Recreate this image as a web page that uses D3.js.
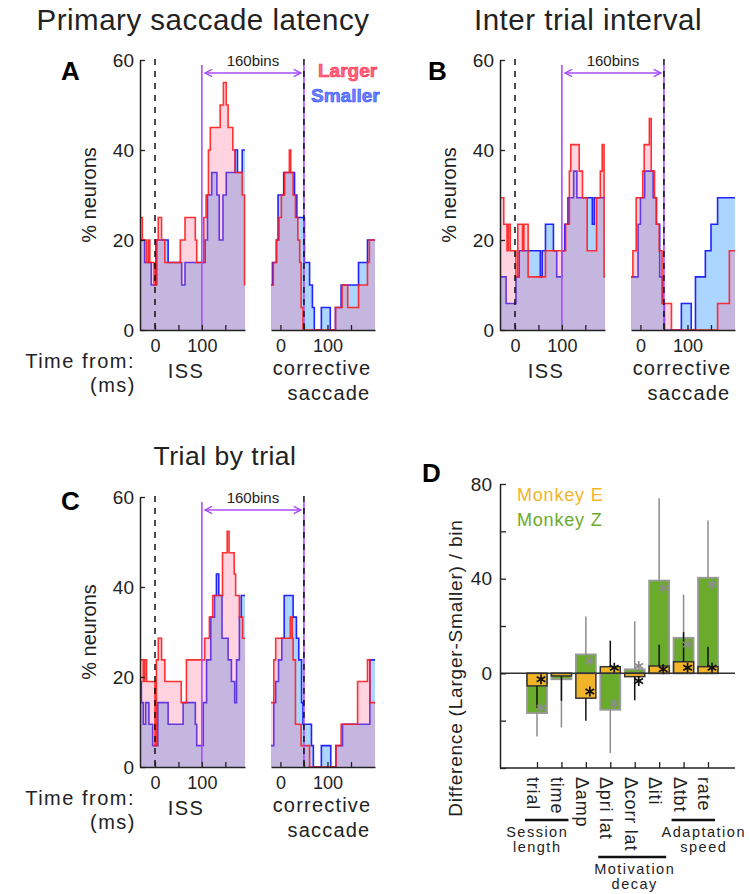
<!DOCTYPE html>
<html>
<head>
<meta charset="utf-8">
<script src="https://cdnjs.cloudflare.com/ajax/libs/d3/7.8.5/d3.min.js"></script>
<style>
  body { margin: 0; background: #fff; }
  svg { display: block; }
  text { font-family: "Liberation Sans", Arial, Helvetica, sans-serif; }
</style>
</head>
<body>
<script>
// step histograms, [time from event (ms), % neurons] - each value holds until the next time
var aIssLarger = [[-32,25],[-27,20],[-18,15],[-14,20],[-11,15],[-2,10],[4,20],[7,25],[14,20],[21,15],[54,20],[64,25],[86,20],[89,15],[104,25],[109,30],[114,40],[118,45],[139,50],[146,55],[152,50],[156,45],[166,40],[171,35],[186,30],[191,10]];
var aIssSmaller = [[-32,20],[-22,15],[-8,10],[2,20],[28,15],[57,10],[64,15],[107,20],[112,30],[121,35],[132,30],[137,20],[145,30],[152,35],[171,40],[176,35],[186,40]];
var aCorLarger = [[-20,10],[-15,15],[-9,20],[-3,25],[2,30],[9,35],[19,40],[22,35],[27,30],[32,25],[37,20],[41,15],[44,5],[48,0],[117,5],[131,10],[143,5],[166,10],[185,15],[189,20]];
var aCorSmaller = [[-20,10],[-17,15],[-8,20],[-5,30],[7,35],[30,30],[35,25],[51,15],[62,10],[68,5],[72,0],[87,5],[106,0],[117,5],[129,10],[166,15],[185,20]];

var bIssLarger = [[-30,29.4],[-24,23.5],[-17,17.6],[-14,23.5],[-10,17.6],[2,11.8],[6,23.5],[16,17.6],[19,23.5],[28,11.8],[65,17.6],[108,23.5],[116,35.3],[119,41.2],[137,35.3],[144,29.4],[154,17.6],[174,29.4],[182,35.3],[186,41.2],[190,11.8]];
var bIssSmaller = [[-30,11.8],[-19,5.9],[2,11.8],[9,17.6],[54,11.8],[58,17.6],[65,23.5],[82,17.6],[89,11.8],[100,17.6],[106,23.5],[113,29.4],[125,35.3],[132,29.4],[165,23.5],[169,29.4]];
var bCorLarger = [[-20,11.8],[-16,17.6],[-9,29.4],[5,35.3],[8,41.2],[19,47],[23,35.3],[30,29.4],[34,23.5],[40,17.6],[46,5.9],[66,0],[164,5.9],[189,17.6]];
var bCorSmaller = [[-20,11.8],[-5,23.5],[0,29.4],[9,35.3],[27,29.4],[34,23.5],[41,11.8],[48,5.9],[51,0],[87,5.9],[108,0],[117,11.8],[138,17.6],[150,23.5],[164,29.4]];

var cIssLarger = [[-32,23.8],[-25,19],[-22,23.8],[-18,19],[0,4.76],[3,23.8],[7,28.6],[14,23.8],[21,19],[56,14.3],[67,23.8],[106,28.6],[116,33.3],[123,38.1],[144,47.6],[154,52.4],[158,47.6],[169,42.9],[172,38.1],[180,33.3],[187,28.6]];
var cIssSmaller = [[-32,19],[-29,14.3],[-25,9.5],[-20,14.3],[-13,9.5],[-5,4.76],[6,14.3],[28,9.5],[60,14.3],[86,9.5],[89,4.76],[103,14.3],[110,23.8],[119,33.3],[127,38.1],[131,42.9],[136,38.1],[143,28.6],[156,23.8],[163,19],[170,14.3],[174,23.8],[180,33.3],[184,38.1]];
var cCorLarger = [[-20,14.3],[-14,23.8],[-10,28.6],[21,33.3],[25,28.6],[27,23.8],[32,9.5],[44,4.76],[62,0],[118,4.76],[129,9.5],[164,19],[185,23.8],[190,14.3]];
var cCorSmaller = [[-20,4.76],[-14,14.3],[-10,19],[-4,23.8],[3,28.6],[8,38.1],[27,33.3],[34,28.6],[39,23.8],[45,14.3],[48,9.5],[66,4.76],[70,0],[87,4.76],[107,0],[118,4.76],[132,9.5],[190,23.8]];

var issDomain = [-32, 192];
var corDomain = [-20, 201];
var neuronTicks = [0, 20, 40, 60];
var timeTicks = [0, 50, 100, 150];
var timeLabels = [0, 100];

// panel D
var dCategories = ["trial", "time", "\u0394amp", "\u0394pri lat", "\u0394corr lat", "\u0394iti", "\u0394tbt", "rate"];
var monkeyE = [-5.3, -1.1, -10.5, 2.8, -1.4, 3.1, 4.9, 2.8];
var monkeyZ = [-16.8, -2.5, 8, -15.4, 1.7, 39.2, 15, 40.4];
var errE = [9.2, 10.5, 9.5, 11, 10, 9, 12.5, 8.4];
var errZ = [9.9, 20.4, 16, 18.3, 20.3, 34.8, 18.3, 24.2];
var starE = [-2.5, null, -7.7, 2.4, -3.2, 1.7, 2.4, 2.4];
var starZ = [-14.5, null, 5.2, -12.8, 3.1, 36, 12.2, 37.5];
var dTicks = [-40, -20, 0, 20, 40, 60, 80];
var dTickLabels = [0, 40, 80];
var dGroups = [
  {lines: ["Session", "length"], from: 0, to: 1},
  {lines: ["Motivation", "decay"], from: 3, to: 5},
  {lines: ["Adaptation", "speed"], from: 6, to: 7}
];

var FONT = '"Liberation Sans", Arial, Helvetica, sans-serif';
var purple = "#a64dff";

var svg = d3.select("body").append("svg")
    .attr("width", 750)
    .attr("height", 894);

var defs = svg.append("defs");
defs.append("marker")
    .attr("id", "chev")
    .attr("viewBox", "0 0 10 10")
    .attr("refX", 9).attr("refY", 5)
    .attr("markerWidth", 9).attr("markerHeight", 9)
    .attr("markerUnits", "userSpaceOnUse")
    .attr("orient", "auto-start-reverse")
  .append("path")
    .attr("d", "M1,1L9,5L1,9")
    .attr("fill", "none")
    .attr("stroke", purple)
    .attr("stroke-width", 1.6);

function styleAxis(sel, size) {
    sel.attr("font-family", FONT).attr("font-size", size);
    sel.select(".domain").attr("stroke", "#222").attr("stroke-width", 1.5);
    sel.selectAll(".tick line").attr("stroke", "#222").attr("stroke-width", 1.3);
    sel.selectAll(".tick text").attr("fill", "#222");
}

function addText(g, str, x, y, size, anchor, extra) {
    var t = g.append("text")
        .text(str)
        .attr("x", x)
        .attr("y", y)
        .attr("fill", "#222")
        .attr("font-size", size)
        .attr("text-anchor", anchor || "start");
    if (extra) extra(t);
    return t;
}

function withEnd(pts, end) {
    return pts.concat([[end, pts[pts.length - 1][1]]]);
}

function histPanel(p) {
    var g = svg.append("g");
    var y = d3.scaleLinear().domain([0, 60]).range([p.bottom, p.top]);
    var xI = d3.scaleLinear().domain(issDomain).range([p.left, p.left + 105]);
    var xC = d3.scaleLinear().domain(corDomain).range([p.left + 131, p.left + 235]);

    [[xI, p.iss, issDomain], [xC, p.cor, corDomain]].forEach(function (s) {
        var x = s[0], ser = s[1], dom = s[2];
        var area = d3.area().curve(d3.curveStepAfter)
            .x(function (d) { return x(d[0]); })
            .y0(y(0))
            .y1(function (d) { return y(d[1]); });
        var line = d3.line().curve(d3.curveStepAfter)
            .x(function (d) { return x(d[0]); })
            .y(function (d) { return y(d[1]); });
        var sm = withEnd(ser[1], dom[1]);
        var lg = withEnd(ser[0], dom[1]);
        g.append("path").attr("d", area(sm)).attr("fill", "#5aaeff").attr("fill-opacity", 0.5);
        g.append("path").attr("d", line(sm)).attr("fill", "none")
            .attr("stroke", "#2222ff").attr("stroke-width", 1.6);
        g.append("path").attr("d", area(lg)).attr("fill", "#ff6d99").attr("fill-opacity", 0.3);
        g.append("path").attr("d", line(lg)).attr("fill", "none")
            .attr("stroke", "#ff1c1c").attr("stroke-width", 1.6).attr("stroke-opacity", 0.9);
    });

    // 160 bin window
    var w1 = xI(100), w2 = xC(50);
    [w1, w2].forEach(function (xx) {
        g.append("line")
            .attr("x1", xx).attr("x2", xx)
            .attr("y1", p.top + 5).attr("y2", p.bottom)
            .attr("stroke", purple).attr("stroke-width", 1.6);
    });
    [xI(0), xC(50)].forEach(function (xx) {
        g.append("line")
            .attr("x1", xx).attr("x2", xx)
            .attr("y1", p.top - 1).attr("y2", p.bottom)
            .attr("stroke", "#111").attr("stroke-width", 1.5)
            .attr("stroke-dasharray", "6,6");
    });
    g.append("line")
        .attr("x1", w1 + 3).attr("x2", w2 - 3)
        .attr("y1", p.top + 13).attr("y2", p.top + 13)
        .attr("stroke", purple).attr("stroke-width", 1.6)
        .attr("marker-start", "url(#chev)")
        .attr("marker-end", "url(#chev)");
    addText(g, "160bins", (w1 + w2) / 2, p.top + 6, 15, "middle");

    // axes
    var ya = g.append("g")
        .attr("transform", "translate(" + p.left + ",0)")
        .call(d3.axisLeft(y).tickValues(neuronTicks).tickSize(-5).tickSizeOuter(0).tickPadding(6));
    styleAxis(ya, 19);
    [xI, xC].forEach(function (x) {
        var xa = g.append("g")
            .attr("transform", "translate(0," + p.bottom + ")")
            .call(d3.axisBottom(x).tickValues(timeTicks).tickSize(-5).tickSizeOuter(0).tickPadding(9)
                .tickFormat(function (d) { return timeLabels.indexOf(d) >= 0 ? d : ""; }));
        styleAxis(xa, 18);
    });

    addText(g, "% neurons", 0, 0, 20, "middle", function (t) {
        t.attr("transform", "translate(" + (p.left - 44) + "," + ((p.top + p.bottom) / 2) + ") rotate(-90)");
    });
    if (p.timeFrom) {
        addText(g, "Time from:", p.left - 5, p.bottom + 38, 20, "end", function (t) { t.attr("letter-spacing", 1.5); });
        addText(g, "(ms)", p.left - 4, p.bottom + 62, 20, "end", function (t) { t.attr("letter-spacing", 1.5); });
    }
    addText(g, "ISS", p.left + 46, p.bottom + 48, 20, "middle", function (t) { t.attr("letter-spacing", 1.5); });
    addText(g, "corrective", p.left + 182, p.bottom + 45, 20, "middle", function (t) { t.attr("letter-spacing", 1.2); });
    addText(g, "saccade", p.left + 189, p.bottom + 70, 20, "middle", function (t) { t.attr("letter-spacing", 1.2); });

    addText(g, p.title, p.titleX, p.titleY, p.titleSize, "middle", function (t) { t.attr("letter-spacing", 0.5); });
    addText(g, p.letter, p.letterX, p.letterY, 26, "start", function (t) { t.attr("font-weight", "bold").attr("fill", "#000"); });

    if (p.legend) {
        addText(g, "Larger", p.left + 178, p.top + 17, 19, "start", function (t) {
            t.attr("font-weight", "bold").attr("fill", "#ff6585").attr("stroke", "#ff2a48").attr("stroke-width", 0.6);
        });
        addText(g, "Smaller", p.left + 171, p.top + 42, 19, "start", function (t) {
            t.attr("font-weight", "bold").attr("fill", "#6f84ff").attr("stroke", "#2f4dff").attr("stroke-width", 0.6);
        });
    }
}

histPanel({left: 140, top: 60, bottom: 330, iss: [aIssLarger, aIssSmaller], cor: [aCorLarger, aCorSmaller],
    title: "Primary saccade latency", titleX: 203, titleY: 30, titleSize: 29.5, letter: "A", letterX: 61, letterY: 80,
    timeFrom: true, legend: true});
histPanel({left: 500, top: 60, bottom: 330, iss: [bIssLarger, bIssSmaller], cor: [bCorLarger, bCorSmaller],
    title: "Inter trial interval", titleX: 588, titleY: 30, titleSize: 29.5, letter: "B", letterX: 428, letterY: 80,
    timeFrom: false, legend: false});
histPanel({left: 140, top: 497, bottom: 767, iss: [cIssLarger, cIssSmaller], cor: [cCorLarger, cCorSmaller],
    title: "Trial by trial", titleX: 225, titleY: 465, titleSize: 26.5, letter: "C", letterX: 61, letterY: 510,
    timeFrom: true, legend: false});

// panel D
(function () {
    var g = svg.append("g");
    var yD = d3.scaleLinear().domain([-40, 80]).range([768, 484]);
    var xD = d3.scalePoint().domain(dCategories).range([537, 708]);
    var bw = 20;

    function bars(vals, fill, stroke, sw) {
        g.selectAll(null).data(vals).enter().append("rect")
            .attr("x", function (d, i) { return xD(dCategories[i]) - bw / 2; })
            .attr("y", function (d) { return Math.min(yD(d), yD(0)); })
            .attr("width", bw)
            .attr("height", function (d) { return Math.abs(yD(d) - yD(0)); })
            .attr("fill", fill)
            .attr("stroke", stroke)
            .attr("stroke-width", sw);
    }
    function errs(vals, err, color) {
        g.selectAll(null).data(vals).enter().append("line")
            .attr("x1", function (d, i) { return xD(dCategories[i]); })
            .attr("x2", function (d, i) { return xD(dCategories[i]); })
            .attr("y1", function (d) { return yD(d); })
            .attr("y2", function (d, i) { return yD(d + (d < 0 ? -1 : 1) * err[i]); })
            .attr("stroke", color)
            .attr("stroke-width", 1.5);
    }
    function stars(vals, color) {
        vals.forEach(function (v, i) {
            if (v === null) return;
            var cx = xD(dCategories[i]) + 4, cy = yD(v), r = 5, d = "";
            [90, 30, 150].forEach(function (a) {
                var dx = r * Math.cos(a * Math.PI / 180), dy = r * Math.sin(a * Math.PI / 180);
                d += "M" + (cx - dx) + "," + (cy - dy) + "L" + (cx + dx) + "," + (cy + dy);
            });
            g.append("path").attr("d", d).attr("stroke", color).attr("stroke-width", 1.7).attr("fill", "none");
        });
    }

    bars(monkeyZ, "#6aab2c", "#9a9a9a", 1.8);
    bars(monkeyE, "#f2b52a", "#333", 1.5);
    errs(monkeyZ, errZ, "#8c8c8c");
    errs(monkeyE, errE, "#111");
    stars(starZ, "#8c8c8c");
    stars(starE, "#111");

    g.append("line")
        .attr("x1", 500).attr("x2", 735)
        .attr("y1", yD(0)).attr("y2", yD(0))
        .attr("stroke", "#333").attr("stroke-width", 1.5);

    var ya = g.append("g")
        .attr("transform", "translate(500,0)")
        .call(d3.axisLeft(yD).tickValues(dTicks).tickSize(-6).tickSizeOuter(0).tickPadding(8)
            .tickFormat(function (d) { return dTickLabels.indexOf(d) >= 0 ? d : ""; }));
    styleAxis(ya, 19);

    var xa = g.append("g")
        .attr("transform", "translate(0,768)")
        .call(d3.axisBottom(xD).tickSize(-6).tickSizeOuter(0).tickFormat(""));
    styleAxis(xa, 18);
    xa.select(".domain").remove();
    g.append("line")
        .attr("x1", 500).attr("x2", 735)
        .attr("y1", 768).attr("y2", 768)
        .attr("stroke", "#222").attr("stroke-width", 1.5);

    dCategories.forEach(function (c) {
        addText(g, c, 0, 0, 18, "start", function (t) {
            t.attr("dominant-baseline", "central")
                .attr("letter-spacing", 0.8)
                .attr("transform", "translate(" + (xD(c) - 4) + ",777) rotate(90)");
        });
    });

    var groupShift = [-12, 0, 8];
    dGroups.forEach(function (gr, k) {
        var x1 = xD(dCategories[gr.from]) - 12, x2 = xD(dCategories[gr.to]) + 7;
        var ly = k === 1 ? 857 : 820;
        g.append("line")
            .attr("x1", x1).attr("x2", x2)
            .attr("y1", ly).attr("y2", ly)
            .attr("stroke", "#111").attr("stroke-width", 2.5);
        var cx = (xD(dCategories[gr.from]) + xD(dCategories[gr.to])) / 2 + groupShift[k];
        gr.lines.forEach(function (s, j) {
            addText(g, s, cx, ly + 17 + j * 15, 14.5, "middle", function (t) { t.attr("letter-spacing", 1.5); });
        });
    });

    addText(g, "Difference (Larger-Smaller) / bin", 0, 0, 19, "middle", function (t) {
        t.attr("letter-spacing", 0.8).attr("transform", "translate(462,668) rotate(-90)");
    });
    addText(g, "Monkey E", 517, 501, 18, "start", function (t) { t.attr("fill", "#f2b52a").attr("letter-spacing", 0.8); });
    addText(g, "Monkey Z", 517, 526, 18, "start", function (t) { t.attr("fill", "#6aab2c").attr("letter-spacing", 0.8); });
    addText(g, "D", 422, 482, 26, "start", function (t) { t.attr("font-weight", "bold").attr("fill", "#000"); });
})();
</script>
</body>
</html>
